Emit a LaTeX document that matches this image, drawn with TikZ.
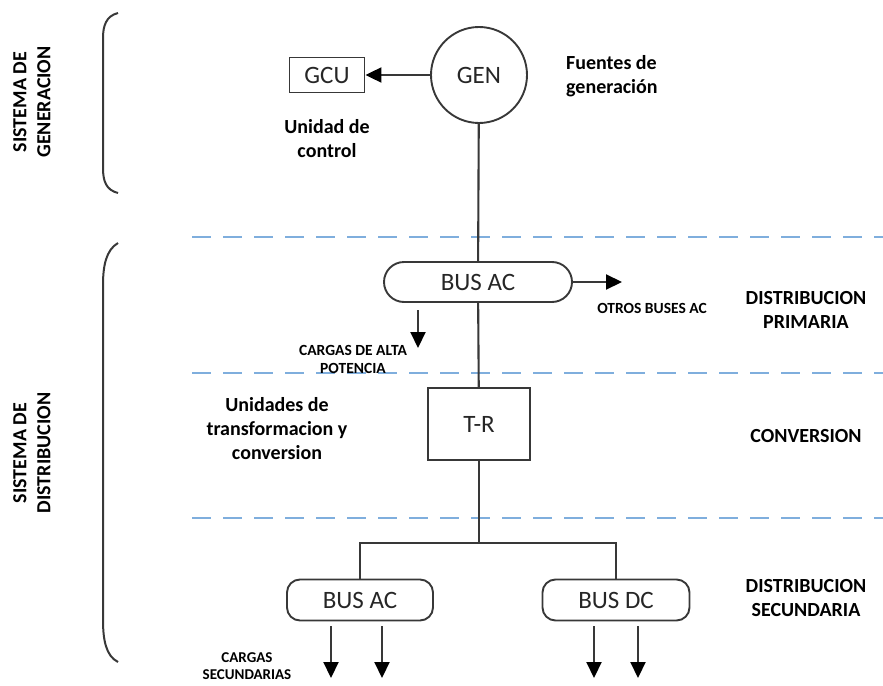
\documentclass[tikz,border=0pt]{standalone}
\usepackage{fontspec}
\setmainfont{Carlito}
\usetikzlibrary{arrows.meta}
\definecolor{ln}{HTML}{383838}
\definecolor{dsh}{HTML}{7FAEDD}
\begin{document}
\begin{tikzpicture}[x=1pt,y=-1pt,
  wire/.style={draw=ln,line width=2.1pt},
  arr/.style={wire,-{Triangle[length=16pt,width=15pt,fill=black,color=black]}},
  sep/.style={draw=dsh,line width=2.6pt,dash pattern=on 19pt off 12pt},
  brk/.style={draw=ln,line width=2pt},
  blk/.style={draw=ln,line width=1.9pt,inner sep=0pt,font=\fontsize{25}{28}\selectfont,text=black!85},
  lbl/.style={font=\bfseries\fontsize{20}{24}\selectfont,align=center,inner sep=0pt},
  small/.style={font=\bfseries\fontsize{15.5}{18}\selectfont,align=center,inner sep=0pt},
]
\useasboundingbox (0,0) rectangle (883,685);

% separators
\draw[sep] (192,237) -- (883,237);
\draw[sep] (192,373) -- (883,373);
\draw[sep] (192,518) -- (883,518);

% brackets
\draw[brk] (118,13) .. controls (106,16) and (103,26) .. (103,38) -- (103,168) .. controls (103,181) and (106,190) .. (118,193);
\draw[brk] (118,243) .. controls (106,250) and (103,266) .. (103,285) -- (103,620) .. controls (103,640) and (106,656) .. (118,662);

% side labels
\node[lbl,rotate=90] (sg) at (32,102) {SISTEMA DE\\GENERACION};
\node[lbl,rotate=90] (sd) at (32,453) {SISTEMA DE\\DISTRIBUCION};

% blocks
\node[blk,circle,minimum size=96pt] (gen) at (479,75) {GEN};
\node[blk,rectangle,minimum width=75pt,minimum height=35pt] (gcu) at (327,75) {GCU};
\node[blk,rectangle,rounded corners=20pt,minimum width=188pt,minimum height=40pt] (bus1) at (478,282) {BUS AC};
\node[blk,rectangle,minimum width=102pt,minimum height=72pt] (tr) at (479,424) {T-R};
\node[blk,rectangle,rounded corners=13pt,minimum width=146pt,minimum height=41pt] (bus2) at (360,600) {BUS AC};
\node[blk,rectangle,rounded corners=13pt,minimum width=147pt,minimum height=41pt] (bus3) at (616,600) {BUS DC};

% labels
\node[lbl] (ucl) at (327,139) {Unidad de\\control};
\node[lbl,anchor=west,align=left] (fg) at (566,76) {Fuentes de\\generación};
\node[lbl] (utc) at (277,429) {Unidades de\\transformacion y\\conversion};
\node[small] (cap) at (353,359) {CARGAS DE ALTA\\POTENCIA};
\node[small] (obl) at (652,308) {OTROS BUSES AC};
\node[lbl] (dp) at (806,310) {DISTRIBUCION\\PRIMARIA};
\node[lbl] (cv) at (806,436) {CONVERSION};
\node[lbl] (ds) at (806,598) {DISTRIBUCION\\SECUNDARIA};
\node[small,font=\bfseries\fontsize{15}{17}\selectfont] (cs) at (247,666) {CARGAS\\SECUNDARIAS};

% connectors
\draw[arr] (gen) -- (gcu);
\draw[wire] (gen) -- (bus1);
\draw[wire] (bus1) -- (tr);
\coordinate (j) at (479,543);
\draw[wire] (tr) -- (j);
\draw[wire] (bus2.north) -- (bus2.north |- j) -- (bus3.north |- j) -- (bus3.north);

\coordinate (o1) at (622,282);
\draw[arr] (bus1.east) -- (o1);
\coordinate (c1a) at (418,310); \coordinate (c1b) at (418,348);
\draw[arr] (c1a) -- (c1b);

\coordinate (a1) at (331,626); \coordinate (a1e) at (331,678);
\coordinate (a2) at (382,626); \coordinate (a2e) at (382,678);
\coordinate (d1) at (594,626); \coordinate (d1e) at (594,678);
\coordinate (d2) at (638,626); \coordinate (d2e) at (638,678);
\draw[arr] (a1) -- (a1e);
\draw[arr] (a2) -- (a2e);
\draw[arr] (d1) -- (d1e);
\draw[arr] (d2) -- (d2e);
\end{tikzpicture}
\end{document}
